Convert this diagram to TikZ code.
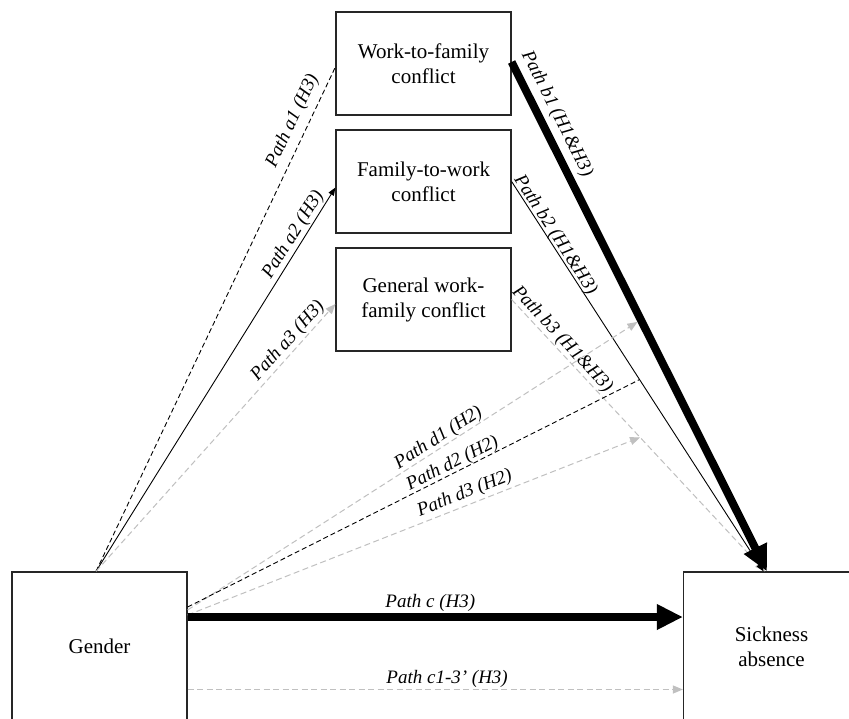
\documentclass[tikz,border=0pt]{standalone}
\usepackage{fontspec}
\setmainfont{Liberation Serif}
\usetikzlibrary{arrows.meta,calc}
\definecolor{lg}{RGB}{192,192,192}
\begin{document}
\begin{tikzpicture}[x=1pt,y=-1pt,
  box/.style={draw=black!85, line width=1.2pt, inner sep=0pt, minimum width=175pt,
    align=center, font=\fontsize{21}{25}\selectfont},
  lab/.style={font=\fontsize{19}{22}\selectfont\itshape, inner sep=1pt, sloped},
  solidarrow/.style={draw=black, line width=0.9pt, -{Triangle[length=8pt,width=6pt]}},
  blackdash/.style={draw=black, line width=0.9pt, dash pattern=on 5pt off 3pt},
  graydash/.style={draw=lg, line width=1pt, dash pattern=on 6pt off 3.5pt,
    -{Triangle[length=10pt,width=8pt]}},
  heavy/.style={draw=black, line width=8pt, -{Triangle[length=26pt,width=24pt]}}
]
\useasboundingbox (0,0) rectangle (849,718);
\fill[white] (0,0) rectangle (849,718);

% boxes
\node[box, minimum height=103pt] (wtf) at (423.5,63.5) {Work-to-family\\conflict};
\node[box, minimum height=103pt] (ftw) at (423.5,181.5) {Family-to-work\\conflict};
\node[box, minimum height=103pt] (gwf) at (423.5,299.5) {General work-\\family conflict};
\node[box, minimum height=149pt] (gender) at (99.5,646.5) {Gender};
\node[box, minimum height=149pt, minimum width=176pt] (sick) at (771.5,646.5) {Sickness\\absence};

% a paths
\draw[blackdash] ([xshift=-3.5pt]gender.north) -- ([yshift=-3.5pt]wtf.west)
  node[lab, pos=0.88, above=5.5pt] {Path a1 (H3)};
\draw[solidarrow] ([xshift=-3.5pt]gender.north) -- ([yshift=-6pt]ftw.west)
  node[lab, pos=0.862, above=0.5pt] {Path a2 (H3)};
\draw[graydash] ([xshift=-3.5pt]gender.north) -- ([yshift=-4.5pt]gwf.west)
  node[lab, pos=0.835, above=0.5pt] {Path a3 (H3)};

% b paths
\draw[graydash] (gwf.east) -- ([xshift=-6.5pt]sick.north)
  coordinate[pos=0.507] (m3)
  node[lab, pos=0.172, above=-0.5pt] {Path b3 (H1\&H3)};
\draw[solidarrow] (ftw.east) -- ([xshift=-8pt]sick.north)
  coordinate[pos=0.508] (m2)
  node[lab, pos=0.148, above=-2.5pt] {Path b2 (H1\&H3)};
\draw[heavy] ([yshift=1.5pt]wtf.east) -- ([xshift=-4.5pt]sick.north)
  coordinate[pos=0.506] (m1)
  node[lab, pos=0.117, above=3.5pt] {Path b1 (H1\&H3)};

% d paths
\draw[graydash, shorten >=4pt] ([yshift=36.5pt]gender.east) -- (m1)
  node[lab, pos=0.565, above=-0.75pt] {Path d1 (H2)};
\draw[blackdash] ([yshift=39.5pt]gender.east) -- (m2)
  node[lab, pos=0.595, above=-1.3pt] {Path d2 (H2)};
\draw[graydash] ([yshift=31.5pt]gender.east) -- (m3)
  node[lab, pos=0.622, above=1.5pt] {Path d3 (H2)};

% c paths
\draw[heavy] ([yshift=29.5pt]gender.east) -- ([yshift=29.5pt]sick.west)
  node[lab, pos=0.49, above=0.5pt] {Path c (H3)};
\draw[graydash] ([yshift=-43pt]gender.east) -- ([yshift=-43pt]sick.west)
  node[lab, pos=0.524, above=0pt] {Path c1-3’ (H3)};
\end{tikzpicture}
\end{document}
